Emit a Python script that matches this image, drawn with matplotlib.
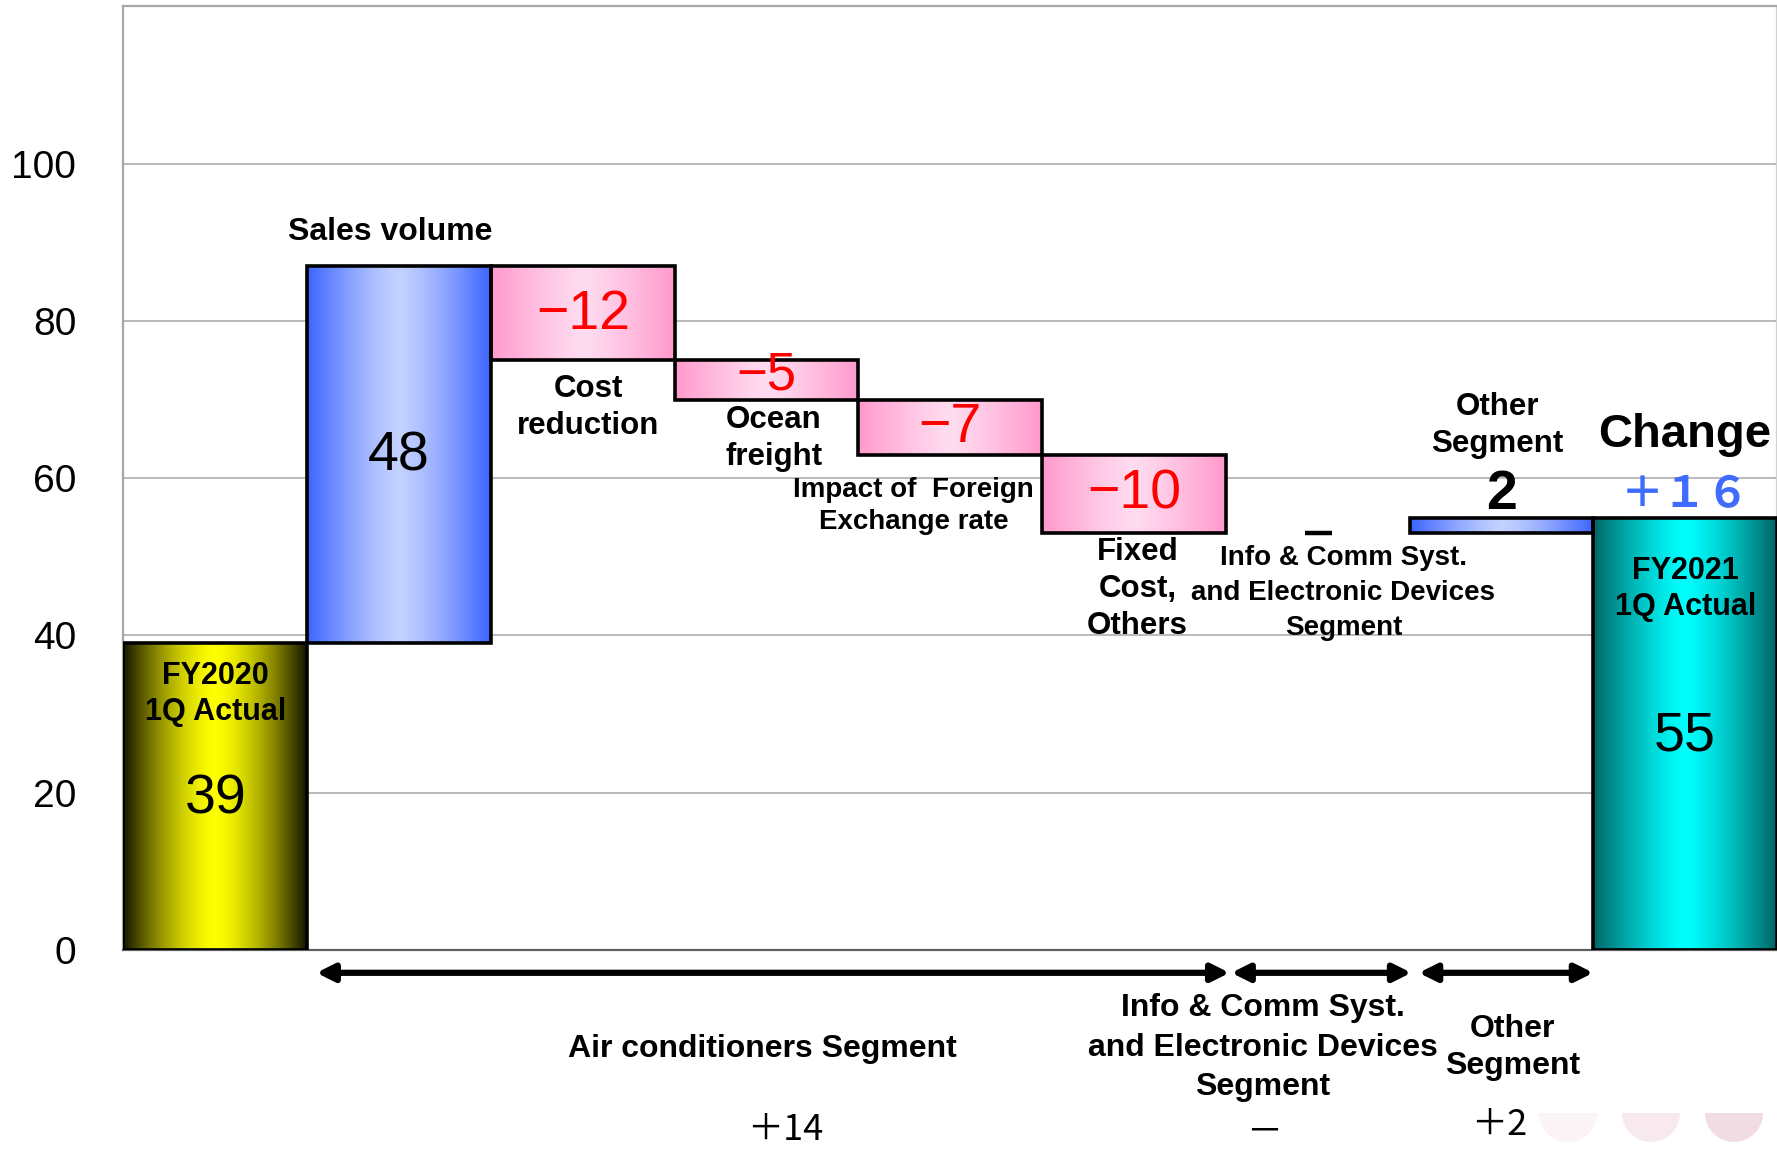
import numpy as np
import matplotlib.pyplot as plt
from matplotlib.colors import to_rgb
from matplotlib.patches import Wedge

plt.rcParams['font.family'] = ['Liberation Sans', 'DejaVu Sans']
CJK = ['Noto Sans CJK JP', 'DejaVu Sans']

# data
start_label = "FY2020\n1Q Actual"
start_value = 39
step_labels = ["Sales volume", "Cost\nreduction", "Ocean\nfreight",
               "Impact of  Foreign\nExchange rate", "Fixed\nCost,\nOthers",
               "Info & Comm Syst.\nand Electronic Devices\nSegment", "Other\nSegment"]
deltas = [48, -12, -5, -7, -10, 0, 2]
end_label = "FY2021\n1Q Actual"
end_value = 55
change_text = "＋１６"
yticks = [0, 20, 40, 60, 80, 100]

segments = ["Air conditioners Segment",
            "Info & Comm Syst.\nand Electronic Devices\nSegment",
            "Other\nSegment"]
segment_changes = ["＋14", "－", "＋2"]
segment_spans = [(0.55, 5.52), (5.53, 6.51), (6.55, 7.5)]


def grad_fill(ax, bar, edge, center, power=1.0):
    x0, y0 = bar.get_x(), bar.get_y()
    w, h = bar.get_width(), bar.get_height()
    t = np.abs(np.linspace(-1, 1, 256)) ** power
    e = np.array(to_rgb(edge))
    c = np.array(to_rgb(center))
    row = c[None, :] * (1 - t[:, None]) + e[None, :] * t[:, None]
    ax.imshow(row[None, :, :], extent=(x0, x0 + w, y0, y0 + h),
              aspect='auto', zorder=2, interpolation='bilinear')


fig = plt.figure(figsize=(17.77, 11.49), dpi=100)

# faint decoration circles at the bottom right of the slide
deco = fig.add_axes([0, 0, 1, 1], zorder=0)
deco.set_xlim(0, 1777)
deco.set_ylim(1149, 0)
deco.axis('off')
for cx, col in zip([1568, 1651, 1734], ['#fbf4f6', '#f7e9ee', '#f2dce4']):
    deco.add_patch(Wedge((cx, 1113), 29, 0, 180, facecolor=col, edgecolor='none'))

ax = fig.add_axes([123.5 / 1777, 199 / 1149, 1 - 123.5 / 1777, 943.6 / 1149], zorder=1)
ax.patch.set_alpha(0)

# waterfall geometry
n = len(deltas)
xs = np.arange(n + 2)
bottoms = [0]
heights = [start_value]
cum = start_value
for d in deltas:
    bottoms.append(min(cum, cum + d))
    heights.append(abs(d))
    cum += d
bottoms.append(0)
heights.append(end_value)

keep = [i for i in range(len(heights)) if heights[i] > 0]
bars = ax.bar(xs[keep], [heights[i] for i in keep], bottom=[bottoms[i] for i in keep],
              width=1.0, facecolor='none', edgecolor='black', linewidth=2.6, zorder=3)

for i, b in zip(keep, bars):
    if i == 0:
        grad_fill(ax, b, '#141400', '#ffff00', 1.5)
    elif i == len(heights) - 1:
        grad_fill(ax, b, '#006464', '#00ffff', 1.3)
    elif deltas[i - 1] > 0:
        grad_fill(ax, b, '#3c64ff', '#c4d2ff', 1.3)
    else:
        grad_fill(ax, b, '#ff99cc', '#ffdcf0', 1.2)

# zero-change step shown as a short dash at its level
for i in range(len(heights)):
    if heights[i] == 0:
        ax.hlines(bottoms[i], xs[i] - 0.07, xs[i] + 0.08, color='black', lw=3.2, zorder=5)

ax.set_xlim(-0.5, n + 1.5)
ax.set_ylim(0, 120)
ax.set_yticks(yticks)
ax.set_yticklabels([str(v) for v in yticks], fontsize=28)
ax.set_xticks([])
ax.tick_params(axis='y', length=0, pad=34)
ax.yaxis.grid(True, color='#b4b4b4', linewidth=1.3, zorder=0)
ax.set_axisbelow(True)
for side, col in [('left', '#a8a8a8'), ('top', '#a8a8a8'), ('right', '#d0d0d0'), ('bottom', '#606060')]:
    ax.spines[side].set_color(col)
    ax.spines[side].set_linewidth(1.6)

# start and end bar texts
ax.text(0.0, 32.6, start_label, ha='center', va='center', fontsize=22,
        fontweight='bold', linespacing=1.27, zorder=5)
ax.text(0.0, 19.2, str(start_value), ha='center', va='center', fontsize=40, zorder=5)
ax.text(n + 1, 45.9, end_label, ha='center', va='center', fontsize=22,
        fontweight='bold', linespacing=1.27, zorder=5)
ax.text(n + 1, 27.1, str(end_value), ha='center', va='center', fontsize=40, zorder=5)
ax.text(n + 1, 65.5, "Change", ha='center', va='center', fontsize=34,
        fontweight='bold', zorder=5)
ax.text(n + 1, 58.0, change_text, ha='center', va='center', fontsize=31,
        fontweight='bold', color='#3f6cff', family=CJK, zorder=5)

# step labels: (x, y, size, spacing)
label_pos = [(0.95, 91.3, 23, 1.2), (2.03, 69.0, 22.5, 1.33), (3.04, 65.0, 22.5, 1.3),
             (3.80, 56.5, 20, 1.3), (5.02, 45.9, 22.5, 1.3), (6.14, 45.4, 20, 1.45),
             (6.98, 66.7, 22.5, 1.3)]
for lab, (lx, ly, fs, ls) in zip(step_labels, label_pos):
    ax.text(lx, ly, lab, ha='center', va='center', fontsize=fs, fontweight='bold',
            linespacing=ls, zorder=5)

# step values
value_y = [62.8, 80.8, 73.0, 66.4, 57.9, None, 57.9]
for i, (d, vy) in enumerate(zip(deltas, value_y)):
    x = i + 1
    if d > 0:
        ax.text(x, vy, str(d), ha='center', va='center', fontsize=40,
                fontweight='bold' if i == n - 1 else 'normal', zorder=5)
    elif d < 0:
        ax.text(x, vy, "\u2212" + str(abs(d)), ha='center', va='center',
                fontsize=40 if d != -5 else 38, color='#ff0000', zorder=5)

# segment arrows and labels below the axis
seg_text_pos = [(2.98, -12.55, 1.2), (5.70, -12.4, 1.4), (7.06, -12.4, 1.3)]
seg_change_pos = [(3.1, -22.9), (5.71, -23.2), (6.99, -22.2)]
for (a, b), lab, (tx, ty, ls), chg, (cx, cy) in zip(segment_spans, segments, seg_text_pos,
                                                    segment_changes, seg_change_pos):
    ax.annotate("", xy=(b, -2.9), xytext=(a, -2.9), annotation_clip=False,
                arrowprops=dict(arrowstyle='<|-|>', color='black', lw=4.5,
                                mutation_scale=26, shrinkA=0, shrinkB=0))
    ax.text(tx, ty, lab, ha='center', va='center', fontsize=23, fontweight='bold',
            linespacing=ls, clip_on=False)
    ax.text(cx, cy, chg, ha='center', va='center', fontsize=26, family=CJK, clip_on=False)

fig.savefig("out.png", dpi=100)
